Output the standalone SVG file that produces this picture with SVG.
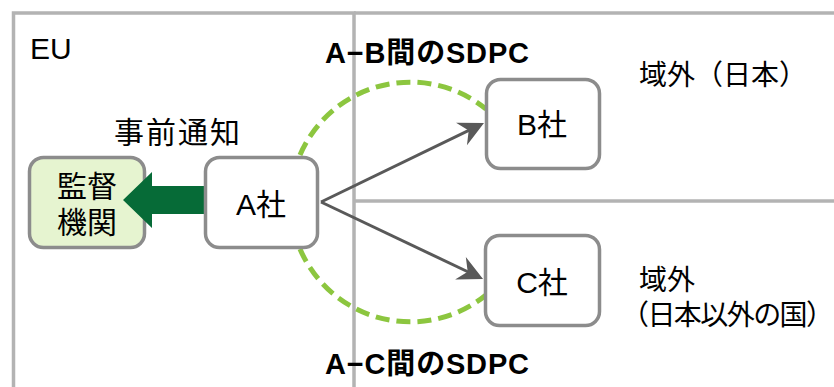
<svg xmlns="http://www.w3.org/2000/svg" width="834" height="387" viewBox="0 0 834 387">
<style>
text{font-family:"Liberation Sans","Noto Sans CJK JP",sans-serif;fill:#000}
.lbl{font-size:30px}
.side{font-size:28px}
.bold{font-size:29px;font-weight:bold}
.node{stroke:#8c8c8c;stroke-width:3.5}
.region{fill:none;stroke:#b3b3b3;stroke-width:3.5}
.dash{fill:none;stroke:#8cc63f;stroke-width:5;stroke-dasharray:14 7}
.conn{fill:none;stroke:#595959;stroke-width:3;marker-end:url(#ah)}
</style>
<defs>
<marker id="ah" viewBox="-30 -15 32 30" markerWidth="32" markerHeight="30" refX="-14" refY="0" markerUnits="userSpaceOnUse" orient="auto">
<path d="M0,0 L-25,-12.5 L-17,0 L-25,12.5 Z" fill="#595959"/>
</marker>
</defs>
<rect width="834" height="387" fill="#fff"/>
<g id="eu-region">
<rect x="13.5" y="13" width="340.5" height="400" fill="#deeef9" class="region"/>
<line x1="354" y1="13" x2="834" y2="13" class="region"/>
<line x1="354" y1="201" x2="834" y2="201" class="region"/>
<text x="30" y="59" class="lbl">EU</text>
</g>
<g id="labels">
<text x="114" y="143" class="lbl" textLength="126">事前通知</text>
<text x="325" y="63" class="bold" textLength="204">A−B間のSDPC</text>
<text x="325" y="374" class="bold" textLength="204">A−C間のSDPC</text>
<text x="639" y="85" class="side">域外（日本）</text>
<text x="639" y="290" class="side">域外</text>
<text x="621" y="325" class="side" textLength="213">（日本以外の国）</text>
</g>
<g id="node-authority">
<rect x="29.5" y="157.5" width="115" height="90" rx="14" fill="#e6f4d0" class="node"/>
<text x="87" y="197" class="lbl" text-anchor="middle">監督</text>
<text x="87" y="233" class="lbl" text-anchor="middle">機関</text>
</g>
<g id="connectors">
<path d="M300,155 A120,120 0 0 1 486,109" class="dash"/>
<path d="M300,249 A120,120 0 0 0 486,295" class="dash"/>
<polygon points="123,200 152,172 152,186 210,186 210,214 152,214 152,228" fill="#066b37"/>
<line x1="321" y1="202" x2="471.4" y2="129.1" class="conn"/>
<line x1="321" y1="202" x2="470.4" y2="273" class="conn"/>
</g>
<g id="node-a">
<rect x="205.5" y="157.5" width="112" height="90" rx="14" fill="#fff" class="node"/>
<text x="261" y="215" class="lbl" text-anchor="middle">A社</text>
</g>
<g id="node-b">
<rect x="486.5" y="79.5" width="113" height="89" rx="14" fill="#fff" class="node"/>
<text x="542" y="135" class="lbl" text-anchor="middle">B社</text>
</g>
<g id="node-c">
<rect x="485.5" y="235.5" width="114" height="90" rx="14" fill="#fff" class="node"/>
<text x="542" y="293" class="lbl" text-anchor="middle">C社</text>
</g>
</svg>
